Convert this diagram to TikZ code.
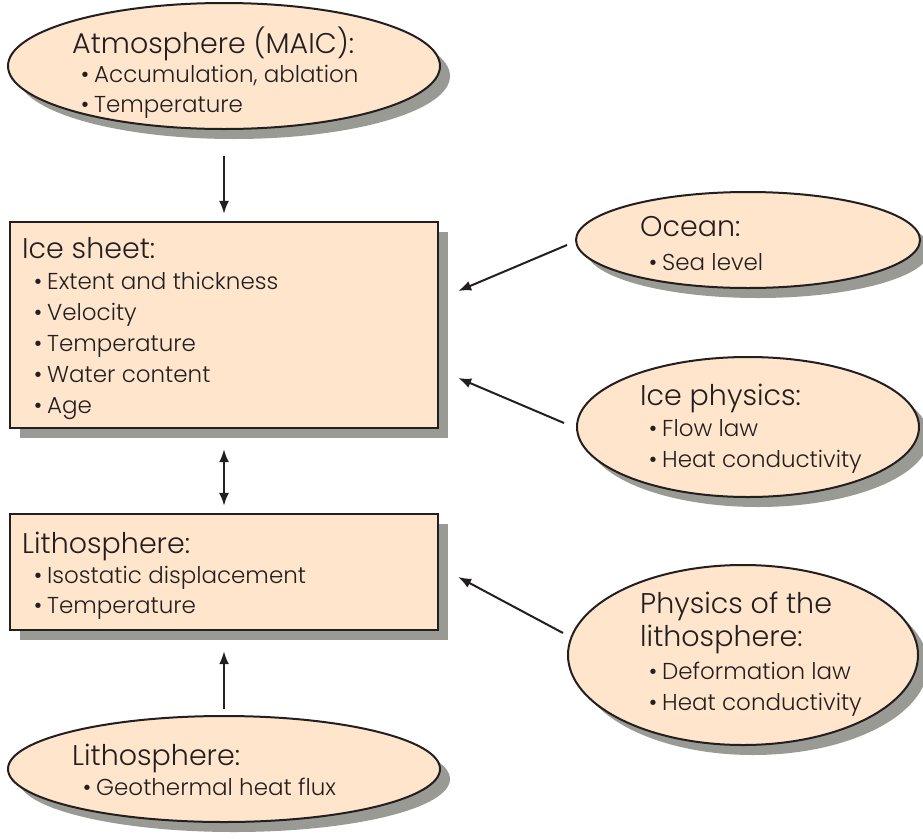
\documentclass[tikz,border=0pt]{standalone}
\usepackage{fontspec}
\setmainfont{Poppins Light}
\usetikzlibrary{shapes.geometric,shadows,arrows.meta,calc}
\definecolor{peach}{HTML}{FEE5CC}
\definecolor{shadowgray}{HTML}{9A9A94}
\definecolor{ink}{HTML}{231F20}
\newcommand{\bdot}{\llap{\textbullet\hspace{5pt}}}
\tikzset{
  shad/.style={drop shadow={shadow xshift=10pt, shadow yshift=-10pt, fill=shadowgray, opacity=1}},
  oval/.style={ellipse, draw=ink, line width=2pt, fill=peach, inner sep=0pt, shad},
  boxx/.style={rectangle, draw=ink, line width=2.4pt, fill=peach, inner sep=0pt, shad},
  ttl/.style={anchor=base west, inner sep=0pt, text=ink, font=\fontsize{28.5}{30}\selectfont},
  itm/.style={anchor=base west, inner sep=0pt, text=ink, font=\fontsize{23}{26}\selectfont},
  arr/.style={draw=ink, line width=2pt, -{Latex[length=13pt,width=10pt]}},
  darr/.style={draw=ink, line width=2pt, {Latex[length=13pt,width=10pt]}-{Latex[length=13pt,width=10pt]}},
}
\begin{document}
\begin{tikzpicture}[x=1pt,y=-1pt]
\useasboundingbox (0,0) rectangle (923,838);
% shapes
\node[oval, minimum width=432pt, minimum height=126pt] (atm) at (224,66) {};
\node[boxx, minimum width=428pt, minimum height=206pt] (ice) at (224,325) {};
\node[boxx, minimum width=428pt, minimum height=116pt] (lith) at (224,572) {};
\node[oval, minimum width=432pt, minimum height=106pt] (lithb) at (224,769) {};
\node[oval, minimum width=344pt, minimum height=96pt] (ocean) at (748,240) {};
\node[oval, minimum width=342pt, minimum height=140pt] (iphys) at (748,427) {};
\node[oval, minimum width=350pt, minimum height=180pt] (lphys) at (743,655) {};
% texts
\node[ttl] (atmT) at (72,53) {Atmosphere (MAIC):};
\node[itm] (atm1) at (94,82) {\bdot Accumulation, ablation};
\node[itm] (atm2) at (94,112) {\bdot Temperature};
\node[ttl] (iceT) at (22,258) {Ice sheet:};
\node[itm] (ice1) at (47,289) {\bdot Extent and thickness};
\node[itm] (ice2) at (47,320) {\bdot Velocity};
\node[itm] (ice3) at (47,351) {\bdot Temperature};
\node[itm] (ice4) at (47,382) {\bdot Water content};
\node[itm] (ice5) at (47,413) {\bdot Age};
\node[ttl] (lithT) at (22,553) {Lithosphere:};
\node[itm] (lith1) at (47,583) {\bdot Isostatic displacement};
\node[itm] (lith2) at (47,613) {\bdot Temperature};
\node[ttl] (lithbT) at (72,765) {Lithosphere:};
\node[itm] (lithb1) at (96,795) {\bdot Geothermal heat flux};
\node[ttl] (oceanT) at (640,236) {Ocean:};
\node[itm] (ocean1) at (662,270) {\bdot Sea level};
\node[ttl] (iphysT) at (640,405) {Ice physics:};
\node[itm] (iphys1) at (662,436) {\bdot Flow law};
\node[itm] (iphys2) at (662,467) {\bdot Heat conductivity};
\node[ttl] (lphysT1) at (640,613) {Physics of the};
\node[ttl] (lphysT2) at (640,646) {lithosphere:};
\node[itm] (lphys1) at (662,679) {\bdot Deformation law};
\node[itm] (lphys2) at (662,710) {\bdot Heat conductivity};
% connectors
\draw[arr, shorten <=26pt, shorten >=7pt] (atm.south) -- (ice.north);
\draw[darr, shorten <=20pt, shorten >=7pt] (ice.south) -- (lith.north);
\draw[arr, shorten <=6pt, shorten >=20pt] (lithb.north) -- (lith.south);
\draw[arr] ($(ocean.west)+(-8,5)$) -- ($(ice.east)+(19,-34)$);
\draw[arr] ($(iphys.west)+(-12,-4)$) -- ($(ice.east)+(19,53)$);
\draw[arr] ($(lphys.west)+(-4,-22)$) -- ($(lith.east)+(19,5)$);
\end{tikzpicture}
\end{document}
